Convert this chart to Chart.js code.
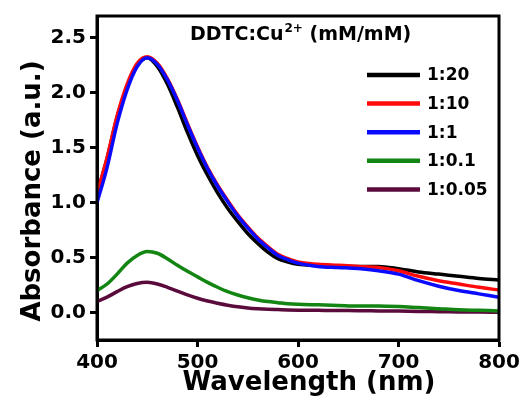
<!DOCTYPE html>
<html>
<head>
<meta charset="utf-8">
<script src="https://cdn.jsdelivr.net/npm/chart.js@4.4.0/dist/chart.umd.min.js"></script>
<style>
  html, body { margin: 0; padding: 0; background: #ffffff; }
  #wrap { width: 531px; height: 400px; }
</style>
</head>
<body>
<div id="wrap"><canvas id="uvvis"></canvas></div>
<script>
// wavelengths (nm) shared by every spectrum
const wavelengths = [400, 410, 420, 430, 440, 450, 460, 470, 480, 490, 500, 510, 520, 530, 540, 550,
  560, 570, 580, 590, 600, 620, 640, 660, 680, 700, 720, 740, 760, 780, 800];

const labels = ["1:20", "1:10", "1:1", "1:0.1", "1:0.05"];
const colors = ["#000000", "#ff0a0a", "#0a0aff", "#128512", "#5a0b3c"];

const abs_1_20 = [1.08, 1.40, 1.78, 2.06, 2.25, 2.32, 2.24, 2.08, 1.87, 1.64, 1.43, 1.25, 1.09, 0.95, 0.83, 0.72,
  0.63, 0.55, 0.49, 0.46, 0.44, 0.43, 0.42, 0.42, 0.42, 0.40, 0.37, 0.35, 0.33, 0.31, 0.295];
const abs_1_10 = [1.08, 1.41, 1.79, 2.08, 2.27, 2.33, 2.27, 2.13, 1.94, 1.72, 1.51, 1.32, 1.16, 1.02, 0.89, 0.78,
  0.68, 0.60, 0.53, 0.49, 0.46, 0.44, 0.43, 0.42, 0.41, 0.38, 0.33, 0.29, 0.26, 0.23, 0.205];
const abs_1_1 = [1.00, 1.32, 1.72, 2.03, 2.24, 2.32, 2.26, 2.12, 1.93, 1.71, 1.50, 1.31, 1.15, 1.01, 0.88, 0.77,
  0.67, 0.59, 0.52, 0.48, 0.45, 0.42, 0.41, 0.40, 0.38, 0.35, 0.29, 0.24, 0.20, 0.17, 0.14];
const abs_1_01 = [0.20, 0.26, 0.35, 0.45, 0.52, 0.555, 0.54, 0.49, 0.43, 0.375, 0.325, 0.275, 0.23, 0.19, 0.16, 0.135,
  0.115, 0.10, 0.09, 0.08, 0.075, 0.07, 0.065, 0.06, 0.06, 0.055, 0.045, 0.035, 0.025, 0.02, 0.015];
const abs_1_005 = [0.10, 0.14, 0.19, 0.235, 0.265, 0.275, 0.26, 0.23, 0.195, 0.16, 0.13, 0.105, 0.085, 0.067, 0.052, 0.042,
  0.035, 0.03, 0.027, 0.024, 0.022, 0.02, 0.018, 0.017, 0.015, 0.013, 0.01, 0.008, 0.006, 0.004, 0.003];

const series = [abs_1_20, abs_1_10, abs_1_1, abs_1_01, abs_1_005];
// blue on top, then red, black, green, purple
const drawOrder = [3, 2, 1, 4, 5];

const xTicks = [400, 500, 600, 700, 800];
const yTicks = [0, 0.5, 1.0, 1.5, 2.0, 2.5];

const FONT = "'DejaVu Sans', sans-serif";

// frame, axis titles, legend and inset title
const insetPlugin = {
  id: "inset",
  afterDraw(chart) {
    const ctx = chart.ctx;
    const area = chart.chartArea;
    ctx.save();
    ctx.strokeStyle = "#000";
    ctx.lineWidth = 3;
    ctx.strokeRect(area.left, area.top, area.right - area.left, area.bottom - area.top);

    ctx.fillStyle = "#000";
    ctx.textAlign = "center";
    ctx.textBaseline = "middle";
    ctx.font = "bold 26px " + FONT;
    ctx.fillText("Wavelength (nm)", 309, 383);
    ctx.save();
    ctx.translate(33, 191);
    ctx.rotate(-Math.PI / 2);
    ctx.fillText("Absorbance (a.u.)", 0, 0);
    ctx.restore();

    // title with superscript
    ctx.textBaseline = "alphabetic";
    ctx.textAlign = "left";
    let x = 190, y = 40;
    ctx.font = "bold 19px " + FONT;
    ctx.fillText("DDTC:Cu", x, y);
    x += ctx.measureText("DDTC:Cu").width + 1;
    ctx.font = "bold 12px " + FONT;
    ctx.fillText("2+", x, y - 8);
    x += ctx.measureText("2+").width;
    ctx.font = "bold 19px " + FONT;
    ctx.fillText(" (mM/mM)", x, y);

    // legend
    ctx.textBaseline = "middle";
    ctx.font = "bold 17px " + FONT;
    labels.forEach((lab, i) => {
      const ly = 75 + i * 28.6;
      ctx.strokeStyle = colors[i];
      ctx.lineWidth = 4.5;
      ctx.beginPath();
      ctx.moveTo(367, ly);
      ctx.lineTo(420, ly);
      ctx.stroke();
      ctx.fillStyle = "#000";
      ctx.fillText(lab, 427, ly + 1);
    });
    ctx.restore();
  }
};

const datasets = series.map((vals, i) => ({
  label: labels[i],
  data: wavelengths.map((w, j) => ({ x: w, y: vals[j] })),
  borderColor: colors[i],
  borderWidth: 3.5,
  pointRadius: 0,
  fill: false,
  cubicInterpolationMode: "monotone",
  order: drawOrder[i]
}));

new Chart(document.getElementById("uvvis"), {
  type: "line",
  data: { datasets: datasets },
  plugins: [insetPlugin],
  options: {
    responsive: true,
    maintainAspectRatio: false,
    animation: false,
    layout: { padding: { top: 10, right: 32, left: 0, bottom: 0 } },
    plugins: { legend: { display: false }, tooltip: { enabled: false } },
    scales: {
      x: {
        type: "linear",
        min: 400,
        max: 800,
        afterBuildTicks: (scale) => { scale.ticks = xTicks.map(v => ({ value: v })); },
        afterFit: (scale) => { scale.height = 60; },
        border: { display: true, color: "#000", width: 3 },
        grid: { display: true, drawOnChartArea: false, drawTicks: true, tickLength: 7, tickWidth: 3, tickColor: "#000" },
        ticks: { color: "#000", padding: 4, maxRotation: 0, font: { family: FONT, weight: "bold", size: 20 } },
        title: { display: false }
      },
      y: {
        min: -0.25,
        max: 2.7,
        afterBuildTicks: (scale) => { scale.ticks = yTicks.map(v => ({ value: v })); },
        afterFit: (scale) => { scale.width = 97; },
        border: { display: true, color: "#000", width: 3 },
        grid: { display: true, drawOnChartArea: false, drawTicks: true, tickLength: 7, tickWidth: 3, tickColor: "#000" },
        ticks: { color: "#000", padding: 4, callback: (v) => Number(v).toFixed(1),
          font: { family: FONT, weight: "bold", size: 20 } },
        title: { display: false }
      }
    }
  }
});
</script>
</body>
</html>
